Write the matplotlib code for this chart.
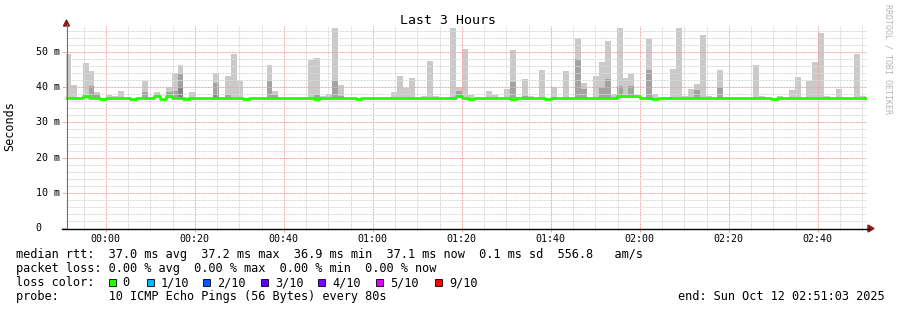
import numpy as np
import matplotlib
matplotlib.use("Agg")
import matplotlib.pyplot as plt
import matplotlib.transforms as mtransforms
from matplotlib.lines import Line2D
from matplotlib.patches import Rectangle, Polygon

nan = np.nan

# ---------------- data ----------------
# one sample every 80 s; first sample starts 23:50:47 (minutes relative to 00:00)
step_seconds = 80
first_sample_seconds = -(9 * 60 + 13)

# top of smoke (max ping), ms
smoke_max = [
    49.5, 40.6, nan, 47.0, 44.6, 38.7, nan, 37.8, 37.6, 38.9,
    nan, nan, nan, 41.8, nan, 38.6, nan, 40.0, 44.0, 46.3,
    37.3, 38.7, nan, nan, nan, 44.1, nan, 43.2, 49.4, 41.9,
    nan, nan, nan, nan, 46.3, 38.9, nan, nan, nan, nan,
    nan, 47.7, 48.2, 37.6, 38.0, 56.7, 40.6, nan, nan, nan,
    nan, nan, nan, nan, nan, 38.6, 43.2, 39.9, 42.5, nan,
    37.5, 47.4, 37.5, nan, nan, 56.7, 40.1, 50.8, 37.8, nan,
    nan, 38.9, 37.7, nan, 39.4, 50.6, nan, 42.3, 37.6, nan,
    44.9, nan, 40.0, nan, 44.6, nan, 54.0, 41.3, nan, 43.2,
    47.2, 53.1, 38.0, 56.8, 42.6, 43.7, nan, nan, 53.7, 38.0,
    nan, nan, 45.1, 56.9, 37.5, 39.4, 40.9, 54.8, 37.5, nan,
    44.9, 37.3, nan, nan, nan, nan, 46.3, 37.5, nan, nan,
    37.5, nan, 39.3, 42.8, nan, 41.9, 47.1, 55.4, 37.5, nan,
    39.4, nan, nan, 49.4, 37.5, nan,
]

# top of the darker inner smoke band, ms
smoke_mid = [
    nan, nan, nan, nan, 40.3, 38.1, nan, nan, nan, nan,
    nan, nan, nan, 38.7, nan, 38.2, nan, 38.6, 39.0, 43.7,
    nan, nan, nan, nan, nan, 41.3, nan, 37.7, nan, nan,
    nan, nan, nan, nan, 41.8, 37.7, nan, nan, nan, nan,
    nan, nan, 37.9, nan, nan, 41.8, 37.6, nan, nan, nan,
    nan, nan, nan, nan, nan, nan, nan, nan, nan, nan,
    nan, nan, nan, nan, nan, nan, 38.9, nan, nan, nan,
    nan, nan, nan, nan, nan, 41.6, nan, 37.5, nan, nan,
    nan, nan, nan, nan, nan, nan, 47.9, 39.4, nan, nan,
    39.7, 42.3, nan, 40.3, nan, 40.3, nan, nan, 44.9, nan,
    nan, nan, nan, nan, nan, nan, 39.2, nan, nan, nan,
    39.9, nan, nan, nan, nan, nan, nan, nan, nan, nan,
    nan, nan, nan, nan, nan, nan, nan, nan, nan, nan,
    nan, nan, nan, nan, nan, nan,
]

# top of the darkest inner smoke band, ms
smoke_dark = [nan] * 136
smoke_dark[19] = 40.0
smoke_dark[25] = 38.0

smoke_min = 36.9  # bottom of smoke (min ping), ms

# median rtt, ms
median_rtt = [
    37.0, 37.0, 37.0, 37.5, 37.0, 37.0, 36.6, 37.0, 37.0, 37.0,
    37.0, 36.6, 37.0, 37.0, 37.0, 37.5, 36.6, 37.5, 37.0, 37.0,
    36.6, 37.0, 37.0, 37.0, 37.0, 37.0, 37.0, 37.0, 37.0, 37.0,
    36.6, 37.0, 37.0, 37.0, 37.0, 37.0, 37.0, 37.0, 37.0, 37.0,
    37.0, 37.0, 36.6, 37.0, 37.0, 37.0, 37.0, 37.0, 37.0, 36.6,
    37.0, 37.0, 37.0, 37.0, 37.0, 37.0, 37.0, 37.0, 37.0, 37.0,
    37.0, 37.0, 37.0, 37.0, 37.0, 37.0, 37.5, 37.0, 36.6, 37.0,
    37.0, 37.0, 37.0, 37.0, 37.0, 36.6, 37.0, 37.0, 37.0, 37.0,
    37.0, 36.6, 37.0, 37.0, 37.0, 37.0, 37.0, 37.0, 37.0, 37.0,
    37.0, 37.0, 37.0, 37.5, 37.5, 37.5, 37.5, 37.0, 37.0, 36.6,
    37.0, 37.0, 37.0, 37.0, 37.0, 37.0, 37.0, 37.0, 37.0, 37.0,
    37.0, 37.0, 37.0, 37.0, 37.0, 37.0, 37.0, 37.0, 37.0, 36.6,
    37.0, 37.0, 37.0, 37.0, 37.0, 37.0, 37.0, 37.0, 37.0, 37.0,
    37.0, 37.0, 37.0, 37.0, 37.0, 37.0,
]

x_tick_minutes = [0, 20, 40, 60, 80, 100, 120, 140, 160]
x_tick_labels = ["00:00", "00:20", "00:40", "01:00", "01:20", "01:40", "02:00", "02:20", "02:40"]
y_tick_values = [0, 10, 20, 30, 40, 50]
y_tick_labels = ["0", "10 m", "20 m", "30 m", "40 m", "50 m"]
view_start_min = -(8 * 60 + 57) / 60   # 23:51:03
view_end_min = 171 + 3 / 60            # 02:51:03

legend_lines = [
    "median rtt:  37.0 ms avg  37.2 ms max  36.9 ms min  37.1 ms now  0.1 ms sd  556.8   am/s",
    "packet loss: 0.00 % avg  0.00 % max  0.00 % min  0.00 % now",
    "loss color:",
    "probe:       10 ICMP Echo Pings (56 Bytes) every 80s",
]
loss_labels = ["0", "1/10", "2/10", "3/10", "4/10", "5/10", "9/10"]
loss_colors = ["#26ff00", "#00b8ff", "#0059ff", "#5e00ff", "#7e00ff", "#dd00ff", "#ff0000"]
end_text = "end: Sun Oct 12 02:51:03 2025"

# ---------------- figure ----------------
W, H, DPI = 897, 310, 100
MONO = "DejaVu Sans Mono"
plt.rcParams["font.family"] = MONO
plt.rcParams["lines.scale_dashes"] = False

fig = plt.figure(figsize=(W / DPI, H / DPI), dpi=DPI, facecolor="white")


def fx(x):
    return x / W


def fy(y):
    return 1 - y / H


ax = fig.add_axes([fx(66), fy(228), (867 - 66) / W, (228 - 26) / H])
ax.set_facecolor("white")
ax.set_xlim(view_start_min, view_end_min)
ax.set_ylim(0, 57.4)

n = len(smoke_max)
step_min = step_seconds / 60
t_start = first_sample_seconds / 60 + np.arange(n) * step_min

smax = np.array(smoke_max, dtype=float)
smid = np.array(smoke_mid, dtype=float)
sdark = np.array(smoke_dark, dtype=float)
med = np.array(median_rtt, dtype=float)

for vals, col in [(smax, "#cacaca"), (smid, "#a3a3a3"), (sdark, "#858585")]:
    ok = ~np.isnan(vals)
    ax.bar(t_start[ok], vals[ok] - smoke_min, bottom=smoke_min, width=step_min,
           align="edge", color=col, linewidth=0, antialiased=False, zorder=2)

# grid
ax.set_xticks(x_tick_minutes)
ax.set_xticklabels(x_tick_labels)
ax.set_xticks(np.arange(-5, 171, 5), minor=True)
ax.set_yticks(y_tick_values)
ax.set_yticklabels([])
ax.set_yticks(np.arange(0, 57, 2), minor=True)
dash = (0, (1.44, 0.72))
ax.grid(which="minor", color="#d9d9d9", linestyle=dash, linewidth=0.72, zorder=3)
ax.grid(which="major", color="#f4a6a6", linestyle=dash, linewidth=0.72, zorder=3)
ax.set_axisbelow(False)
for s in ax.spines.values():
    s.set_visible(False)
ax.tick_params(axis="x", which="major", length=3, width=0.72, color="#f4a6a6",
               pad=1.5, labelsize=7.2, labelcolor="#000000")
ax.tick_params(axis="x", which="minor", length=1.5, width=0.72, color="#d9d9d9")
ax.tick_params(axis="y", which="major", length=3, width=0.72, color="#f4a6a6")
ax.tick_params(axis="y", which="minor", length=0)

# median line
t_edges = np.append(t_start, t_start[-1] + step_min)
ax.step(t_edges, np.append(med, med[-1]), where="post", color="#26ff00",
        linewidth=2.0, zorder=4, solid_capstyle="butt")

# y tick labels (left aligned like rrdtool)
trans = mtransforms.blended_transform_factory(fig.transFigure, ax.transData)
for v, lab in zip(y_tick_values, y_tick_labels):
    ax.text(fx(35.5), v, lab, transform=trans, ha="left", va="center",
            fontsize=7.2, family=MONO, color="#000000")

# axes lines and arrows
fig.add_artist(Line2D([fx(66.5), fx(66.5)], [fy(228), fy(24)], color="#707070", linewidth=0.8))
fig.add_artist(Line2D([fx(62), fx(869)], [fy(228.5), fy(228.5)], color="#000000", linewidth=1.0))
fig.add_artist(Polygon([(fx(63.5), fy(26)), (fx(69.5), fy(26)), (fx(66.5), fy(20))],
                       closed=True, color="#8b1a1a", transform=fig.transFigure))
fig.add_artist(Polygon([(fx(868), fy(225)), (fx(868), fy(232)), (fx(874), fy(228.5))],
                       closed=True, color="#8b1a1a", transform=fig.transFigure))

# titles
fig.text(fx(447.5), fy(20), "Last 3 Hours", ha="center", va="center", fontsize=9.5, family=MONO)
fig.text(fx(10), fy(126), "Seconds", rotation=90, ha="center", va="center", fontsize=8.5, family=MONO)
fig.text(fx(888), fy(59), "RRDTOOL / TOBI OETIKER", rotation=270, ha="center", va="center",
         fontsize=6, family=MONO, color="#b4b4b4")

# legend
base = [258.3, 272, 286, 300]
LFS = 8.55
for line, b in zip(legend_lines, base):
    fig.text(fx(15.5), fy(b), line, ha="left", va="baseline", fontsize=LFS, family=MONO)
sq_x = [108.7, 146.7, 203.3, 261, 318.3, 376, 435]
for sx, lab, col in zip(sq_x, loss_labels, loss_colors):
    fig.add_artist(Rectangle((fx(sx), fy(286.3)), 7 / W, 7 / H, transform=fig.transFigure,
                             facecolor=col, edgecolor="#000000", linewidth=0.6))
    fig.text(fx(sx + 14), fy(base[2]), lab, ha="left", va="baseline", fontsize=LFS, family=MONO)
fig.text(fx(677.5), fy(base[3]), end_text, ha="left", va="baseline", fontsize=LFS, family=MONO)

fig.savefig("out.png", dpi=DPI, facecolor="white")
